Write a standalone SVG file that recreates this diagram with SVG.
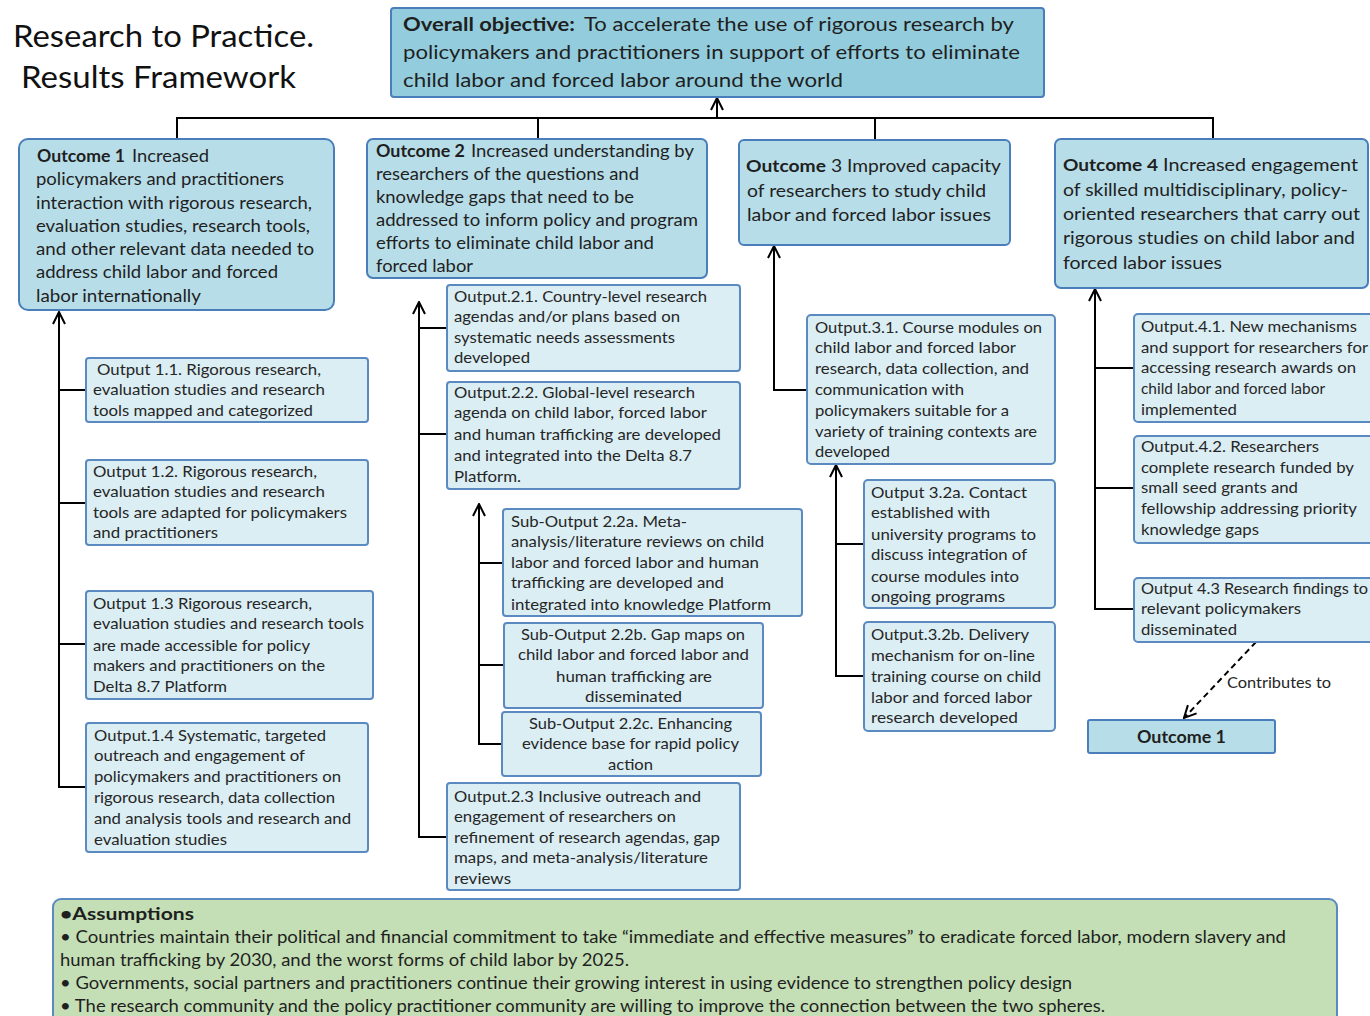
<svg xmlns="http://www.w3.org/2000/svg" width="1370" height="1016" viewBox="0 0 1370 1016">
<defs>
<marker id="arr" viewBox="0 0 14 14" refX="13" refY="7" markerWidth="14" markerHeight="14" markerUnits="userSpaceOnUse" orient="auto">
<path d="M1,1 L13,7 L1,13" fill="none" stroke="#000" stroke-width="2"/>
</marker>
<style>
.obj{fill:#93cddd;stroke:#4a7ebb;stroke-width:2}
.oc{fill:#b7dde8;stroke:#4a7ebb;stroke-width:2}
.op{fill:#dbeef4;stroke:#5b8ac0;stroke-width:2}
.as{fill:#c4dfb5;stroke:#5b8ac0;stroke-width:2}
.ln{fill:none;stroke:#000;stroke-width:2}
.dl{fill:none;stroke:#000;stroke-width:2;stroke-dasharray:6 4}
text{font-family:Lato,"Open Sans","Liberation Sans",sans-serif;fill:#1f1f1f}
.ti{font-size:30px;fill:#111}
.o0{font-size:19.5px}
.o1{font-size:16.5px}
.o3{font-size:17.5px}
.p{font-size:15px;fill:#262626}
.a{font-size:16.5px}
.b{font-weight:bold}
</style>
</defs>

<g id="title">
<text class="ti" x="13" y="47" textLength="301" lengthAdjust="spacingAndGlyphs">Research to Practice.</text>
<text class="ti" x="21" y="88" textLength="275" lengthAdjust="spacingAndGlyphs">Results Framework</text>
</g>

<g id="connectors">
<path class="ln" d="M177,140 V118 H1213 V140 M538,118 V140 M875,118 V140"/>
<path class="ln" d="M717,118 V98" marker-end="url(#arr)"/>
<path class="ln" d="M86,787 H59 V312" marker-end="url(#arr)"/>
<path class="ln" d="M59,390 H86 M59,503 H86 M59,644 H86"/>
<path class="ln" d="M447,837 H419 V302" marker-end="url(#arr)"/>
<path class="ln" d="M419,328 H447 M419,434 H447"/>
<path class="ln" d="M502,744 H479 V504" marker-end="url(#arr)"/>
<path class="ln" d="M479,563 H503 M479,665 H504"/>
<path class="ln" d="M807,390 H774 V246" marker-end="url(#arr)"/>
<path class="ln" d="M863,676 H836 V465" marker-end="url(#arr)"/>
<path class="ln" d="M836,544 H863"/>
<path class="ln" d="M1133,609 H1095 V289" marker-end="url(#arr)"/>
<path class="ln" d="M1095,368 H1133 M1095,488 H1133"/>
<path class="dl" d="M1256,642 L1184,718" marker-end="url(#arr)"/>
<text class="p" x="1227" y="688" textLength="104" lengthAdjust="spacingAndGlyphs">Contributes to</text>
</g>

<g id="objective">
<rect class="obj" x="391" y="8" width="653" height="89" rx="3"/>
<text class="o0" y="31"><tspan class="b" x="403" textLength="172" lengthAdjust="spacingAndGlyphs">Overall objective:</tspan><tspan x="584" textLength="430" lengthAdjust="spacingAndGlyphs">To accelerate the use of rigorous research by</tspan></text>
<text class="o0" x="403" y="59" textLength="617" lengthAdjust="spacingAndGlyphs">policymakers and practitioners in support of efforts to eliminate</text>
<text class="o0" x="403" y="87" textLength="440" lengthAdjust="spacingAndGlyphs">child labor and forced labor around the world</text>
</g>

<g id="outcome1">
<rect class="oc" x="19" y="139" width="315" height="171" rx="9"/>
<text class="o1" y="162"><tspan class="b" x="37" textLength="88" lengthAdjust="spacingAndGlyphs">Outcome 1</tspan><tspan x="132" textLength="77" lengthAdjust="spacingAndGlyphs">Increased</tspan></text>
<text class="o1" x="36" y="185" textLength="248" lengthAdjust="spacingAndGlyphs">policymakers and practitioners</text>
<text class="o1" x="36" y="209" textLength="276" lengthAdjust="spacingAndGlyphs">interaction with rigorous research,</text>
<text class="o1" x="36" y="232" textLength="274" lengthAdjust="spacingAndGlyphs">evaluation studies, research tools,</text>
<text class="o1" x="36" y="255" textLength="278" lengthAdjust="spacingAndGlyphs">and other relevant data needed to</text>
<text class="o1" x="36" y="278" textLength="242" lengthAdjust="spacingAndGlyphs">address child labor and forced</text>
<text class="o1" x="36" y="302" textLength="165" lengthAdjust="spacingAndGlyphs">labor internationally</text>
</g>

<g id="outcome2">
<rect class="oc" x="367" y="139" width="340" height="139" rx="6"/>
<text class="o1" y="157"><tspan class="b" x="376" textLength="89" lengthAdjust="spacingAndGlyphs">Outcome 2</tspan><tspan x="471" textLength="223" lengthAdjust="spacingAndGlyphs">Increased understanding by</tspan></text>
<text class="o1" x="376" y="180" textLength="263" lengthAdjust="spacingAndGlyphs">researchers  of the questions and</text>
<text class="o1" x="376" y="203" textLength="258" lengthAdjust="spacingAndGlyphs">knowledge gaps that need to be</text>
<text class="o1" x="376" y="226" textLength="322" lengthAdjust="spacingAndGlyphs">addressed to inform policy and program</text>
<text class="o1" x="376" y="249" textLength="278" lengthAdjust="spacingAndGlyphs">efforts to eliminate child labor and</text>
<text class="o1" x="376" y="272" textLength="97" lengthAdjust="spacingAndGlyphs">forced labor</text>
</g>

<g id="outcome3">
<rect class="oc" x="739" y="140" width="271" height="105" rx="5"/>
<text class="o3" y="172"><tspan class="b" x="746" textLength="80" lengthAdjust="spacingAndGlyphs">Outcome</tspan><tspan x="831" textLength="170" lengthAdjust="spacingAndGlyphs">3 Improved capacity</tspan></text>
<text class="o3" x="747" y="197" textLength="239" lengthAdjust="spacingAndGlyphs">of researchers to study child</text>
<text class="o3" x="747" y="221" textLength="244" lengthAdjust="spacingAndGlyphs">labor and forced labor issues</text>
</g>

<g id="outcome4">
<rect class="oc" x="1055" y="139" width="313" height="149" rx="6"/>
<text class="o3" y="171"><tspan class="b" x="1063" textLength="95" lengthAdjust="spacingAndGlyphs">Outcome 4</tspan><tspan x="1163" textLength="195" lengthAdjust="spacingAndGlyphs">Increased engagement</tspan></text>
<text class="o3" x="1063" y="196" textLength="285" lengthAdjust="spacingAndGlyphs">of skilled multidisciplinary, policy-</text>
<text class="o3" x="1063" y="220" textLength="297" lengthAdjust="spacingAndGlyphs">oriented researchers that carry out</text>
<text class="o3" x="1063" y="244" textLength="292" lengthAdjust="spacingAndGlyphs">rigorous studies on child labor and</text>
<text class="o3" x="1063" y="269" textLength="159" lengthAdjust="spacingAndGlyphs">forced labor issues</text>
</g>

<g id="output1-1">
<rect class="op" x="86" y="358" width="282" height="64" rx="3"/>
<text class="p" x="97" y="375" textLength="224" lengthAdjust="spacingAndGlyphs">Output 1.1. Rigorous research,</text>
<text class="p" x="93" y="395" textLength="232" lengthAdjust="spacingAndGlyphs">evaluation studies and research</text>
<text class="p" x="93" y="416" textLength="220" lengthAdjust="spacingAndGlyphs">tools mapped and categorized</text>
</g>

<g id="output1-2">
<rect class="op" x="86" y="460" width="282" height="85" rx="3"/>
<text class="p" x="93" y="477" textLength="224" lengthAdjust="spacingAndGlyphs">Output 1.2. Rigorous research,</text>
<text class="p" x="93" y="497" textLength="232" lengthAdjust="spacingAndGlyphs">evaluation studies and research</text>
<text class="p" x="93" y="518" textLength="254" lengthAdjust="spacingAndGlyphs">tools are adapted for policymakers</text>
<text class="p" x="93" y="538" textLength="125" lengthAdjust="spacingAndGlyphs">and practitioners</text>
</g>

<g id="output1-3">
<rect class="op" x="86" y="591" width="287" height="108" rx="3"/>
<text class="p" x="93" y="609" textLength="219" lengthAdjust="spacingAndGlyphs">Output 1.3 Rigorous research,</text>
<text class="p" x="93" y="629" textLength="271" lengthAdjust="spacingAndGlyphs">evaluation studies and research tools</text>
<text class="p" x="93" y="651" textLength="217" lengthAdjust="spacingAndGlyphs">are made accessible for policy</text>
<text class="p" x="93" y="671" textLength="232" lengthAdjust="spacingAndGlyphs">makers and practitioners on the</text>
<text class="p" x="93" y="692" textLength="134" lengthAdjust="spacingAndGlyphs">Delta 8.7 Platform</text>
</g>

<g id="output1-4">
<rect class="op" x="86" y="723" width="282" height="129" rx="3"/>
<text class="p" x="94" y="741" textLength="232" lengthAdjust="spacingAndGlyphs">Output.1.4 Systematic, targeted</text>
<text class="p" x="94" y="761" textLength="211" lengthAdjust="spacingAndGlyphs">outreach and engagement of</text>
<text class="p" x="94" y="782" textLength="247" lengthAdjust="spacingAndGlyphs">policymakers and practitioners on</text>
<text class="p" x="94" y="803" textLength="241" lengthAdjust="spacingAndGlyphs">rigorous research, data collection</text>
<text class="p" x="94" y="824" textLength="257" lengthAdjust="spacingAndGlyphs">and analysis tools and research and</text>
<text class="p" x="94" y="845" textLength="133" lengthAdjust="spacingAndGlyphs">evaluation studies</text>
</g>

<g id="output2-1">
<rect class="op" x="447" y="285" width="293" height="86" rx="3"/>
<text class="p" x="454" y="302" textLength="253" lengthAdjust="spacingAndGlyphs">Output.2.1. Country-level research</text>
<text class="p" x="454" y="322" textLength="226" lengthAdjust="spacingAndGlyphs">agendas and/or plans based on</text>
<text class="p" x="454" y="343" textLength="221" lengthAdjust="spacingAndGlyphs">systematic needs assessments</text>
<text class="p" x="454" y="363" textLength="76" lengthAdjust="spacingAndGlyphs">developed</text>
</g>

<g id="output2-2">
<rect class="op" x="447" y="382" width="293" height="107" rx="3"/>
<text class="p" x="454" y="398" textLength="241" lengthAdjust="spacingAndGlyphs">Output.2.2. Global-level research</text>
<text class="p" x="454" y="418" textLength="253" lengthAdjust="spacingAndGlyphs">agenda on child labor, forced labor</text>
<text class="p" x="454" y="440" textLength="267" lengthAdjust="spacingAndGlyphs">and human trafficking are developed</text>
<text class="p" x="454" y="461" textLength="238" lengthAdjust="spacingAndGlyphs">and integrated into the Delta 8.7</text>
<text class="p" x="454" y="482" textLength="67" lengthAdjust="spacingAndGlyphs">Platform.</text>
</g>

<g id="sub-output2-2a">
<rect class="op" x="503" y="509" width="299" height="107" rx="3"/>
<text class="p" x="511" y="527" textLength="176" lengthAdjust="spacingAndGlyphs">Sub-Output 2.2a.  Meta-</text>
<text class="p" x="511" y="547" textLength="253" lengthAdjust="spacingAndGlyphs">analysis/literature reviews on child</text>
<text class="p" x="511" y="568" textLength="248" lengthAdjust="spacingAndGlyphs">labor and forced labor and human</text>
<text class="p" x="511" y="588" textLength="213" lengthAdjust="spacingAndGlyphs">trafficking are developed and</text>
<text class="p" x="511" y="610" textLength="260" lengthAdjust="spacingAndGlyphs">integrated into knowledge Platform</text>
</g>

<g id="sub-output2-2b">
<rect class="op" x="504" y="623" width="259" height="85" rx="3"/>
<text class="p" x="521" y="640" textLength="224" lengthAdjust="spacingAndGlyphs">Sub-Output 2.2b. Gap maps on</text>
<text class="p" x="518" y="660" textLength="231" lengthAdjust="spacingAndGlyphs">child labor and forced labor and</text>
<text class="p" x="556" y="682" textLength="156" lengthAdjust="spacingAndGlyphs">human trafficking are</text>
<text class="p" x="585" y="702" textLength="97" lengthAdjust="spacingAndGlyphs">disseminated</text>
</g>

<g id="sub-output2-2c">
<rect class="op" x="502" y="712" width="259" height="64" rx="3"/>
<text class="p" x="529" y="729" textLength="203" lengthAdjust="spacingAndGlyphs">Sub-Output 2.2c. Enhancing</text>
<text class="p" x="522" y="749" textLength="217" lengthAdjust="spacingAndGlyphs">evidence base for rapid policy</text>
<text class="p" x="608" y="770" textLength="45" lengthAdjust="spacingAndGlyphs">action</text>
</g>

<g id="output2-3">
<rect class="op" x="447" y="783" width="293" height="107" rx="3"/>
<text class="p" x="454" y="802" textLength="247" lengthAdjust="spacingAndGlyphs">Output.2.3 Inclusive outreach and</text>
<text class="p" x="454" y="822" textLength="222" lengthAdjust="spacingAndGlyphs">engagement of researchers on</text>
<text class="p" x="454" y="843" textLength="266" lengthAdjust="spacingAndGlyphs">refinement of research agendas, gap</text>
<text class="p" x="454" y="863" textLength="254" lengthAdjust="spacingAndGlyphs">maps, and meta-analysis/literature</text>
<text class="p" x="454" y="884" textLength="57" lengthAdjust="spacingAndGlyphs">reviews</text>
</g>

<g id="output3-1">
<rect class="op" x="807" y="315" width="248" height="149" rx="4"/>
<text class="p" x="815" y="333" textLength="227" lengthAdjust="spacingAndGlyphs">Output.3.1. Course modules on</text>
<text class="p" x="815" y="353" textLength="201" lengthAdjust="spacingAndGlyphs">child labor and forced labor</text>
<text class="p" x="815" y="374" textLength="214" lengthAdjust="spacingAndGlyphs">research, data collection,  and</text>
<text class="p" x="815" y="395" textLength="149" lengthAdjust="spacingAndGlyphs">communication with</text>
<text class="p" x="815" y="416" textLength="194" lengthAdjust="spacingAndGlyphs">policymakers suitable for a</text>
<text class="p" x="815" y="437" textLength="222" lengthAdjust="spacingAndGlyphs">variety of training contexts are</text>
<text class="p" x="815" y="457" textLength="75" lengthAdjust="spacingAndGlyphs">developed</text>
</g>

<g id="output3-2a">
<rect class="op" x="864" y="480" width="191" height="128" rx="4"/>
<text class="p" x="871" y="498" textLength="156" lengthAdjust="spacingAndGlyphs">Output 3.2a.  Contact</text>
<text class="p" x="871" y="518" textLength="119" lengthAdjust="spacingAndGlyphs">established with</text>
<text class="p" x="871" y="540" textLength="165" lengthAdjust="spacingAndGlyphs">university programs to</text>
<text class="p" x="871" y="560" textLength="156" lengthAdjust="spacingAndGlyphs">discuss integration of</text>
<text class="p" x="871" y="582" textLength="148" lengthAdjust="spacingAndGlyphs">course modules into</text>
<text class="p" x="871" y="602" textLength="134" lengthAdjust="spacingAndGlyphs">ongoing programs</text>
</g>

<g id="output3-2b">
<rect class="op" x="864" y="622" width="191" height="109" rx="4"/>
<text class="p" x="871" y="640" textLength="158" lengthAdjust="spacingAndGlyphs">Output.3.2b. Delivery</text>
<text class="p" x="871" y="661" textLength="164" lengthAdjust="spacingAndGlyphs">mechanism for on-line</text>
<text class="p" x="871" y="682" textLength="170" lengthAdjust="spacingAndGlyphs">training course on child</text>
<text class="p" x="871" y="703" textLength="161" lengthAdjust="spacingAndGlyphs">labor and forced labor</text>
<text class="p" x="871" y="723" textLength="147" lengthAdjust="spacingAndGlyphs">research  developed</text>
</g>

<g id="output4-1">
<rect class="op" x="1134" y="314" width="250" height="108" rx="4"/>
<text class="p" x="1141" y="332" textLength="216" lengthAdjust="spacingAndGlyphs">Output.4.1. New mechanisms</text>
<text class="p" x="1141" y="353" textLength="227" lengthAdjust="spacingAndGlyphs">and support for researchers for</text>
<text class="p" x="1141" y="373" textLength="215" lengthAdjust="spacingAndGlyphs">accessing research awards on</text>
<text class="p" x="1141" y="394" textLength="184" lengthAdjust="spacingAndGlyphs">child labor and forced labor</text>
<text class="p" x="1141" y="415" textLength="96" lengthAdjust="spacingAndGlyphs">implemented</text>
</g>

<g id="output4-2">
<rect class="op" x="1134" y="436" width="250" height="107" rx="4"/>
<text class="p" x="1141" y="452" textLength="178" lengthAdjust="spacingAndGlyphs">Output.4.2. Researchers</text>
<text class="p" x="1141" y="473" textLength="213" lengthAdjust="spacingAndGlyphs">complete research funded by</text>
<text class="p" x="1141" y="493" textLength="157" lengthAdjust="spacingAndGlyphs">small seed grants and</text>
<text class="p" x="1141" y="514" textLength="216" lengthAdjust="spacingAndGlyphs">fellowship addressing priority</text>
<text class="p" x="1141" y="535" textLength="118" lengthAdjust="spacingAndGlyphs">knowledge gaps</text>
</g>

<g id="output4-3">
<rect class="op" x="1134" y="578" width="250" height="64" rx="4"/>
<text class="p" x="1141" y="594" textLength="227" lengthAdjust="spacingAndGlyphs">Output 4.3 Research findings to</text>
<text class="p" x="1141" y="614" textLength="160" lengthAdjust="spacingAndGlyphs">relevant policymakers</text>
<text class="p" x="1141" y="635" textLength="96" lengthAdjust="spacingAndGlyphs">disseminated</text>
</g>

<g id="outcome1-ref">
<rect class="oc" x="1088" y="720" width="187" height="33" rx="2"/>
<text class="o1 b" x="1137" y="743" textLength="89" lengthAdjust="spacingAndGlyphs">Outcome 1</text>
</g>

<g id="assumptions">
<rect class="as" x="53" y="899" width="1284" height="135" rx="8"/>
<text class="a b" x="60" y="920" textLength="134" lengthAdjust="spacingAndGlyphs">•Assumptions</text>
<text class="a" x="60" y="943" textLength="1226" lengthAdjust="spacingAndGlyphs">• Countries maintain their political and financial commitment to take “immediate and effective  measures” to eradicate forced labor, modern slavery and</text>
<text class="a" x="60" y="966" textLength="569" lengthAdjust="spacingAndGlyphs">human trafficking by 2030, and the worst forms of child labor by 2025.</text>
<text class="a" x="60" y="989" textLength="1012" lengthAdjust="spacingAndGlyphs">• Governments, social partners and practitioners continue their growing interest in using evidence to strengthen policy design</text>
<text class="a" x="60" y="1012" textLength="1045" lengthAdjust="spacingAndGlyphs">• The research community and the policy practitioner community are willing to improve the connection between the two spheres.</text>
</g>
</svg>
